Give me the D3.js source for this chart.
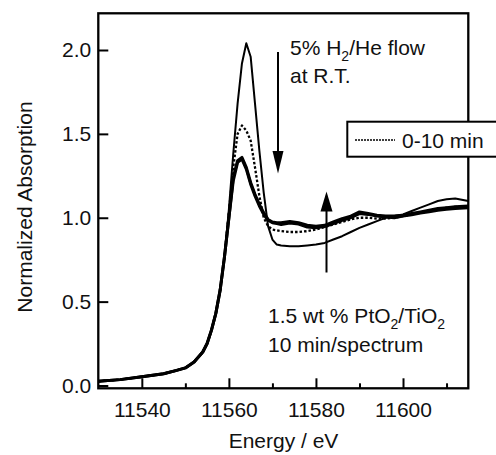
<!DOCTYPE html>
<html><head><meta charset="utf-8">
<script src="https://cdn.jsdelivr.net/npm/d3@7"></script>
<style>body{margin:0;background:#fff}svg{display:block}text{font-family:"Liberation Sans",Arial,sans-serif;fill:#111}</style>
</head><body><svg id="c" width="496" height="455"></svg>
<script>
// ---- data ----
const energy = [11530,11535,11540,11545,11548,11550,11552,11554,11555,11556,11557,11558,11559,11560,11561,11562,11563,11564,11565,11566,11567,11568,11569,11570,11571,11572,11574,11576,11578,11580,11582,11584,11586,11588,11590,11592,11594,11596,11598,11600,11602,11604,11606,11608,11610,11612,11615];
const edge = [0.025,0.035,0.052,0.07,0.09,0.105,0.14,0.2,0.25,0.33,0.43,0.57,0.77];
const initial = edge.concat([1.05,1.38,1.68,1.92,2.04,1.96,1.68,1.40,1.15,0.95,0.87,0.84,0.835,0.83,0.83,0.835,0.84,0.85,0.87,0.89,0.915,0.94,0.96,0.98,1.0,1.01,1.02,1.04,1.06,1.08,1.10,1.11,1.115,1.10]);
const min0_10 = edge.concat([1.03,1.30,1.50,1.55,1.52,1.46,1.30,1.13,1.00,0.95,0.93,0.925,0.92,0.915,0.915,0.92,0.93,0.945,0.96,0.975,0.99,1.0,1.0,0.995,0.995,1.0,1.01,1.02,1.03,1.04,1.05,1.06,1.065,1.07]);
const finalA = edge.concat([1.0,1.24,1.34,1.36,1.30,1.21,1.14,1.08,1.03,0.99,0.975,0.97,0.97,0.978,0.97,0.955,0.95,0.955,0.975,0.995,1.01,1.035,1.025,1.015,1.01,1.01,1.015,1.025,1.035,1.045,1.055,1.06,1.065,1.07]);
const finalB = edge.concat([1.0,1.22,1.33,1.35,1.29,1.20,1.13,1.07,1.02,0.985,0.97,0.965,0.96,0.968,0.962,0.945,0.94,0.948,0.965,0.985,1.0,1.025,1.02,1.01,1.005,1.0,1.01,1.018,1.028,1.036,1.045,1.05,1.055,1.06]);
const xMajor = [11540,11560,11580,11600];
const xMinor = [11550,11570,11590,11610];
const yTicks = [0.0,0.5,1.0,1.5,2.0];
const legendLabels = ["0-10 min"];

// ---- layout ----
const svg = d3.select("#c");
const L = 98.3, R = 468.3, T = 13.3, B = 388.3;
const x = d3.scaleLinear().domain([11530,11615]).range([L,R]);
const y = d3.scaleLinear().domain([0,2]).range([385.5,50]);

svg.append("defs").append("clipPath").attr("id","clip")
  .append("rect").attr("x",L).attr("y",T).attr("width",R-L).attr("height",B-T);

const line = d3.line().x(d=>x(d[0])).y(d=>y(d[1]));
const g = svg.append("g").attr("clip-path","url(#clip)");
function draw(vals, w, dash){
  const p = g.append("path").datum(energy.map((e,i)=>[e,vals[i]]))
    .attr("d",line).attr("fill","none").attr("stroke","#000")
    .attr("stroke-width",w).attr("stroke-linejoin","round");
  if(dash) p.attr("stroke-dasharray",dash);
}
draw(finalA,3);
draw(finalB,3);
draw(min0_10,2.3,"2.5,2");
draw(initial,2);

// axes
const fs = 21;
const xa = svg.append("g").attr("transform",`translate(0,${B})`)
  .call(d3.axisBottom(x).tickValues(xMajor).tickSizeInner(-10).tickSizeOuter(0).tickPadding(18).tickFormat(d3.format("d")));
const xm = svg.append("g").attr("transform",`translate(0,${B})`)
  .call(d3.axisBottom(x).tickValues(xMinor).tickSizeInner(-5).tickSizeOuter(0).tickFormat(""));
const ya = svg.append("g").attr("transform",`translate(${L},0)`)
  .call(d3.axisLeft(y).tickValues(yTicks).tickSizeInner(-10).tickSizeOuter(0).tickPadding(7).tickFormat(d3.format(".1f")));
[xa,xm,ya].forEach(a=>{
  a.select(".domain").remove();
  a.selectAll(".tick line").attr("stroke","#000").attr("stroke-width",2);
  a.selectAll(".tick text").attr("font-size",fs).attr("font-family","Liberation Sans, Arial, sans-serif").attr("fill","#111");
});
xa.selectAll(".tick text").attr("dy","0.5em");

// frame
svg.append("rect").attr("x",L).attr("y",T).attr("width",R-L).attr("height",B-T)
  .attr("fill","none").attr("stroke","#000").attr("stroke-width",2.3);

// axis titles
svg.append("text").attr("x",(227+340)/2).attr("y",448).attr("text-anchor","middle").attr("font-size",fs).text("Energy / eV");
svg.append("text").attr("transform","translate(32,207) rotate(-90)").attr("text-anchor","middle").attr("font-size",fs).text("Normalized Absorption");

// annotations
function sub(t, parts, sx, sy){
  const el = svg.append("text").attr("x",sx).attr("y",sy).attr("font-size",fs);
  parts.forEach(p=>{
    if(p.s) el.append("tspan").attr("font-size",14).attr("dy",6).text(p.t);
    else el.append("tspan").attr("dy",p.back?-6:0).text(p.t);
  });
}
sub(svg,[{t:"5% H"},{t:"2",s:1},{t:"/He flow",back:1}],290,55);
svg.append("text").attr("x",290).attr("y",83).attr("font-size",fs).text("at R.T.");
sub(svg,[{t:"1.5 wt % PtO"},{t:"2",s:1},{t:"/TiO",back:1},{t:"2",s:1}],268,323);
svg.append("text").attr("x",268).attr("y",352).attr("font-size",fs).text("10 min/spectrum");

// arrows
svg.append("line").attr("x1",278).attr("x2",278).attr("y1",52).attr("y2",155).attr("stroke","#000").attr("stroke-width",2);
svg.append("path").attr("d","M272.5,151 L283.5,151 L278,173.5 Z").attr("fill","#000");
svg.append("line").attr("x1",326.5).attr("x2",326.5).attr("y1",272.5).attr("y2",208).attr("stroke","#000").attr("stroke-width",2);
svg.append("path").attr("d","M320.5,211.5 L332.5,211.5 L326.5,191.5 Z").attr("fill","#000");

// legend (partially out of view)
const lg = svg.append("g");
lg.append("rect").attr("x",347.3).attr("y",121.7).attr("width",160).attr("height",35)
  .attr("fill","#fff").attr("stroke","#000").attr("stroke-width",2);
lg.append("line").attr("x1",355).attr("x2",395).attr("y1",140).attr("y2",140)
  .attr("stroke","#000").attr("stroke-width",1.5).attr("stroke-dasharray","2,1");
lg.append("text").attr("x",402).attr("y",148).attr("font-size",fs).text(legendLabels[0]);
</script></body></html>
